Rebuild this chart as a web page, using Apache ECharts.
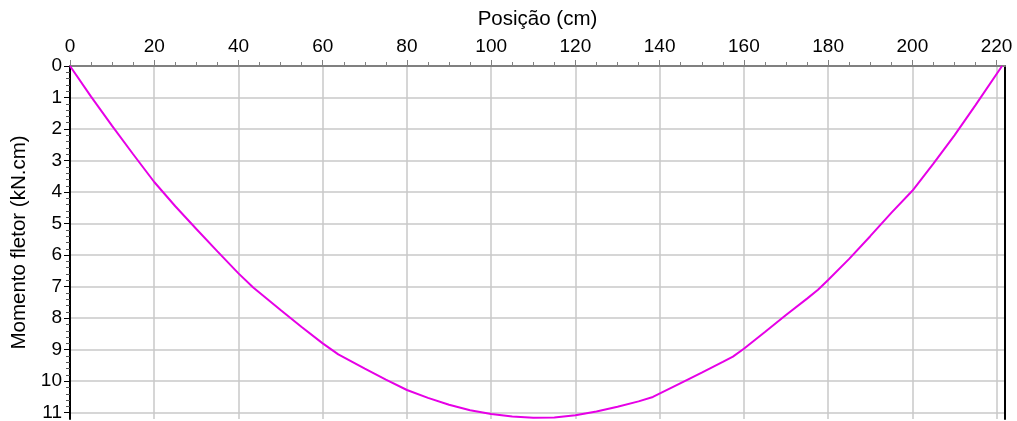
<!DOCTYPE html>
<html>
<head>
<meta charset="utf-8">
<script src="https://cdn.jsdelivr.net/npm/echarts@6/dist/echarts.min.js"></script>
<style>
  html, body { margin: 0; padding: 0; background: #fff; }
  #chart { width: 1017px; height: 421px; }
</style>
</head>
<body>
<div id="chart"></div>
<script>
// posição (cm) e momento fletor (kN.cm)
const posicao = [0, 5, 10, 15, 20, 25, 30, 35, 40, 43.5, 50, 55, 60, 63.7, 70, 75, 80, 85, 90, 95, 100,
  105, 110, 115, 120, 125, 130, 135, 138.4, 145, 150, 155, 157.4, 160, 165, 170, 175, 177.6, 180,
  185, 190, 195, 200, 205, 210, 215, 221.3];
const momento = [0, 0.97, 1.9, 2.8, 3.68, 4.45, 5.17, 5.88, 6.58, 7.03, 7.74, 8.28, 8.8, 9.15, 9.6, 9.95, 10.28,
  10.53, 10.75, 10.92, 11.04, 11.12, 11.16, 11.15, 11.08, 10.96, 10.81, 10.64, 10.5, 10.06, 9.73,
  9.39, 9.22, 8.97, 8.44, 7.9, 7.38, 7.1, 6.79, 6.12, 5.4, 4.66, 3.96, 3.1, 2.2, 1.24, 0];

const xTicks = [0, 20, 40, 60, 80, 100, 120, 140, 160, 180, 200, 220];
const xMinorTicks = [5, 10, 15, 25, 30, 35, 45, 50, 55, 65, 70, 75, 85, 90, 95, 105, 110, 115,
  125, 130, 135, 145, 150, 155, 165, 170, 175, 185, 190, 195, 205, 210, 215];
const yTicks = [0, 1, 2, 3, 4, 5, 6, 7, 8, 9, 10, 11];

const fonte = 'Liberation Sans, Arial, sans-serif';

// marcas menores do eixo y (a cada 0.2)
const yMinorTicks = [];
for (let i = 0; i < 56; i++) {
  if (i % 5 !== 0) yMinorTicks.push(+(i * 0.2).toFixed(1));
}

const data = posicao.map((p, i) => [p, momento[i]]);

const myChart = echarts.init(document.getElementById('chart'));
const option = {
  animation: false,
  grid: { left: 70, right: 12, top: 66, bottom: 2, outerBoundsMode: 'none' },
  xAxis: [
    {
      type: 'value', position: 'top', min: 0, max: 222,
      name: 'Posição (cm)', nameLocation: 'middle', nameGap: 36,
      nameTextStyle: { fontFamily: fonte, fontSize: 20.5, color: '#000' },
      axisLine: { lineStyle: { color: '#808080', width: 2 } },
      axisTick: { customValues: xTicks, length: 6, lineStyle: { color: '#808080', width: 1 } },
      axisLabel: { customValues: xTicks, margin: 10, fontFamily: fonte, fontSize: 19, color: '#000' },
      splitLine: { show: true, lineStyle: { color: '#c8c8c8', width: 1.5 } }
    },
    {
      type: 'value', position: 'top', min: 0, max: 222,
      axisLine: { show: false },
      axisTick: { customValues: xMinorTicks, length: 4, lineStyle: { color: '#808080', width: 1 } },
      axisLabel: { show: false },
      splitLine: { show: false }
    }
  ],
  yAxis: [
    {
      type: 'value', inverse: true, min: 0, max: 11.2,
      name: 'Momento fletor (kN.cm)', nameLocation: 'middle', nameGap: 36,
      nameTextStyle: { fontFamily: fonte, fontSize: 20.5, color: '#000' },
      axisLine: { show: true, lineStyle: { color: '#000', width: 2 } },
      axisTick: { customValues: yTicks, length: 6, lineStyle: { color: '#000', width: 1 } },
      axisLabel: { customValues: yTicks, margin: 8, fontFamily: fonte, fontSize: 19, color: '#000' },
      splitLine: { show: true, lineStyle: { color: '#c8c8c8', width: 1.5 } }
    },
    {
      type: 'value', inverse: true, min: 0, max: 11.2, position: 'left',
      axisLine: { show: false },
      axisTick: { customValues: yMinorTicks, length: 4, lineStyle: { color: '#555', width: 1 } },
      axisLabel: { show: false },
      splitLine: { show: false }
    },
    {
      type: 'value', inverse: true, min: 0, max: 11.2, position: 'right',
      axisLine: { show: true, lineStyle: { color: '#000', width: 2 } },
      axisTick: { show: false },
      axisLabel: { show: false },
      splitLine: { show: false }
    }
  ],
  series: [
    {
      type: 'line',
      data: data,
      showSymbol: false,
      lineStyle: { color: '#e600e6', width: 2 },
      itemStyle: { color: '#e600e6' }
    }
  ]
};
myChart.setOption(option);
</script>
</body>
</html>
